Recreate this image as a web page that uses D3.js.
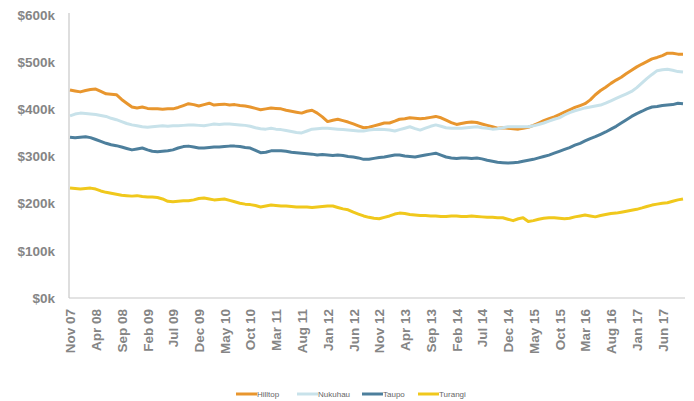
<!DOCTYPE html>
<html>
<head>
<meta charset="utf-8">
<script src="https://cdn.jsdelivr.net/npm/d3@7"></script>
<style>
  body { margin: 0; background: #fff; }
  svg { display: block; font-family: "Liberation Sans", Arial, sans-serif; }
  .axis-label { fill: #858585; font-weight: bold; font-size: 13.5px; }
  .legend text { fill: #666; font-size: 8px; }
</style>
</head>
<body>
<svg id="chart" width="694" height="401"></svg>
<script>
// monthly median values, $k, Nov 07 .. Oct 17
var startMonth = new Date(2007, 10, 1);
var endMonth = new Date(2017, 10, 1);
var months = d3.timeMonth.range(startMonth, endMonth);

var seriesNames = ["Hilltop", "Nukuhau", "Taupo", "Turangi"];
var seriesColors = ["#e8962e", "#c8e2ea", "#4d7f9c", "#f0c81c"];

var hilltop = [441,439,437,440,442,443,438,433,432,431,421,413,405,403,405,402,401,401,400,401,
  401,404,408,412,410,407,410,413,409,410,411,409,410,408,407,405,402,399,401,403,
  402,401,398,396,394,392,396,398,392,384,374,377,379,376,373,369,365,361,362,365,
  368,371,371,375,379,380,382,381,380,381,383,385,382,377,372,368,370,372,373,372,
  369,366,363,360,361,360,359,358,360,362,366,371,376,380,384,389,394,399,404,408,
  412,420,431,440,447,455,462,468,476,483,490,496,501,507,510,514,519,519,517,517];

var nukuhau = [386,390,392,391,390,389,387,385,381,378,374,370,367,365,363,362,363,364,365,364,
  365,365,366,367,367,366,365,367,369,368,369,369,368,367,366,364,361,359,358,360,
  358,357,355,353,351,350,354,358,359,360,360,359,358,357,356,355,354,354,356,357,
  358,357,356,354,357,360,363,359,356,360,364,367,364,361,360,360,360,361,362,363,
  361,360,358,359,361,363,363,363,363,363,365,368,371,375,379,382,388,393,397,400,
  403,405,407,409,413,418,423,428,433,438,446,456,465,474,482,484,485,483,480,479];

var taupo = [341,340,341,342,340,336,332,328,325,323,320,317,314,316,318,314,311,310,311,312,
  314,318,321,322,320,318,318,319,320,320,321,322,322,321,319,318,313,308,309,312,
  312,312,311,309,308,307,306,305,303,304,303,302,303,302,300,299,297,294,294,296,
  298,299,301,303,303,301,300,299,301,303,305,307,303,299,297,296,297,297,296,297,
  295,292,290,288,287,286,287,288,290,292,294,297,300,303,307,311,315,319,324,328,
  333,338,342,347,352,358,364,371,378,385,391,396,401,405,406,408,409,410,413,412];

var turangi = [233,232,231,232,233,231,227,224,222,220,218,217,216,217,215,214,214,213,210,205,
  204,205,206,206,208,211,212,210,208,209,210,207,204,201,199,198,196,193,195,197,
  196,195,195,194,193,193,193,192,193,194,195,195,192,189,187,182,178,174,171,169,
  168,171,174,178,180,179,177,176,175,175,174,174,173,173,174,174,173,173,174,173,
  172,171,171,170,170,167,164,168,170,162,164,167,169,170,170,169,168,169,172,174,
  176,174,172,175,177,179,180,182,184,186,188,191,194,197,199,201,202,205,208,210];

var seriesValues = [hilltop, nukuhau, taupo, turangi];

var xTickLabels = ["Nov 07","Apr 08","Sep 08","Feb 09","Jul 09","Dec 09","May 10","Oct 10",
  "Mar 11","Aug 11","Jan 12","Jun 12","Nov 12","Apr 13","Sep 13","Feb 14","Jul 14",
  "Dec 14","May 15","Oct 15","Mar 16","Aug 16","Jan 17","Jun 17"];
var yTicks = [0, 100, 200, 300, 400, 500, 600];

var svg = d3.select("#chart");
var plotLeft = 69, plotRight = 685, plotTop = 15, plotBottom = 298;

var parseLabel = d3.timeParse("%b %y");

var x = d3.scaleTime()
    .domain([months[0], months[months.length - 1]])
    .range([70, 683]);

var y = d3.scaleLinear()
    .domain([0, 600])
    .range([plotBottom, plotTop]);

// axis lines
svg.append("line")
    .attr("x1", plotLeft).attr("x2", plotLeft)
    .attr("y1", plotTop - 2).attr("y2", plotBottom)
    .attr("stroke", "#c8c8c8").attr("stroke-width", 1.2);
svg.append("line")
    .attr("x1", plotLeft).attr("x2", plotRight)
    .attr("y1", plotBottom).attr("y2", plotBottom)
    .attr("stroke", "#c8c8c8").attr("stroke-width", 1.2);

// y axis
var yAxis = d3.axisLeft(y)
    .tickValues(yTicks)
    .tickSize(0)
    .tickPadding(14)
    .tickFormat(function(d) { return "$" + d + "k"; });
var gy = svg.append("g")
    .attr("transform", "translate(" + plotLeft + ",0)")
    .call(yAxis);
gy.select(".domain").remove();
gy.selectAll("text").attr("class", "axis-label").attr("fill", null).attr("font-size", null).attr("font-family", null);

// x axis
var xAxis = d3.axisBottom(x)
    .tickValues(xTickLabels.map(parseLabel))
    .tickSize(0)
    .tickFormat(d3.timeFormat("%b %y"));
var gx = svg.append("g")
    .attr("transform", "translate(0," + plotBottom + ")")
    .call(xAxis);
gx.select(".domain").remove();
gx.selectAll("text")
    .attr("class", "axis-label")
    .attr("fill", null).attr("font-size", null).attr("font-family", null)
    .attr("text-anchor", "end")
    .attr("dy", "0.35em")
    .attr("transform", "translate(0,11) rotate(-90)")
    .attr("x", 0).attr("y", 0);

// lines
var line = d3.line()
    .x(function(d, i) { return x(months[i]); })
    .y(function(d) { return y(d); });

svg.selectAll(".series")
    .data(seriesValues)
    .enter().append("path")
    .attr("class", "series")
    .attr("fill", "none")
    .attr("stroke", function(d, i) { return seriesColors[i]; })
    .attr("stroke-width", 3)
    .attr("stroke-linejoin", "round")
    .attr("d", line);

// legend
var legendX = [236, 297, 362, 418];
var legend = svg.append("g").attr("class", "legend");
var item = legend.selectAll("g")
    .data(seriesNames)
    .enter().append("g")
    .attr("transform", function(d, i) { return "translate(" + legendX[i] + ",394)"; });
item.append("line")
    .attr("x1", 0).attr("x2", 21)
    .attr("stroke", function(d, i) { return seriesColors[i]; })
    .attr("stroke-width", 3);
item.append("text")
    .attr("x", 21)
    .attr("dy", "0.35em")
    .text(function(d) { return d; });
</script>
</body>
</html>
